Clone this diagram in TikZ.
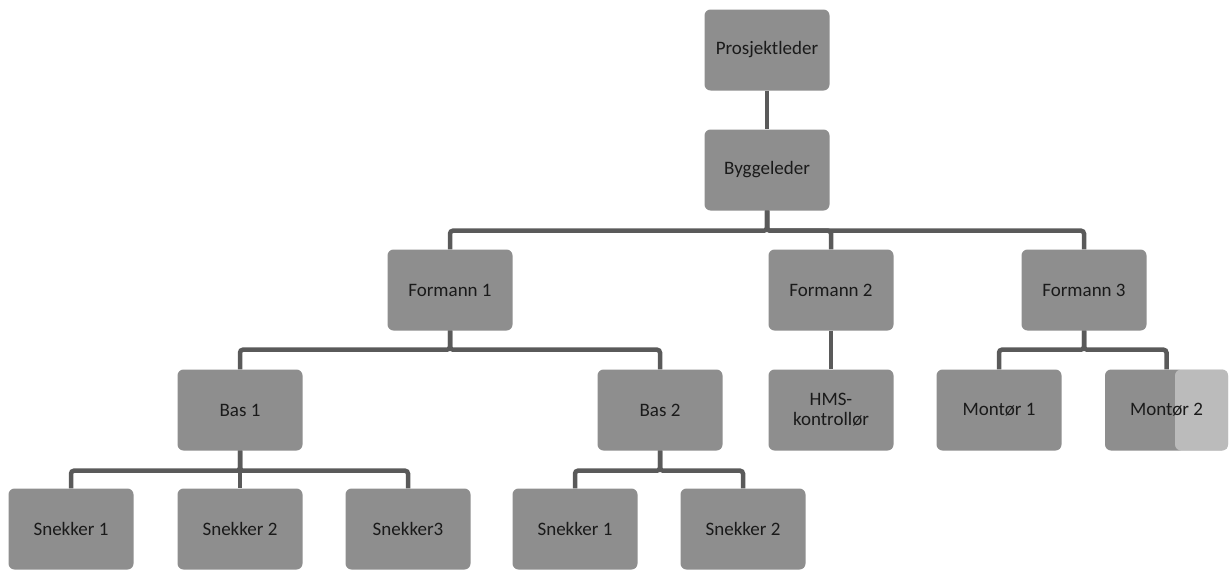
\documentclass[tikz,border=0pt]{standalone}
\usepackage{fontspec}
\setmainfont{Carlito}
\definecolor{boxfill}{HTML}{8E8E8E}
\definecolor{linegray}{HTML}{5A5A5A}
\definecolor{textdark}{HTML}{1A1A1A}
\begin{document}
\begin{tikzpicture}[x=1pt,y=-1pt,
  orgbox/.style={rectangle, rounded corners=6pt, fill=boxfill,
    minimum width=125pt, minimum height=81pt, inner sep=2pt,
    text=textdark, font=\fontsize{19}{20}\selectfont, align=center},
  conn/.style={draw=linegray, line width=4.5pt, rounded corners=3pt}]
\useasboundingbox (0,0) rectangle (1231,570);

% top levels
\node[orgbox] (pl) at (767,50) {Prosjektleder};
\node[orgbox] (bl) at (767,170) {Byggeleder};

% foremen
\node[orgbox] (f1) at (450,290) {Formann 1};
\node[orgbox] (f2) at (831,290) {Formann 2};
\node[orgbox] (f3) at (1084,290) {Formann 3};

% third level
\node[orgbox] (b1) at (240,410) {Bas 1};
\node[orgbox] (b2) at (660,410) {Bas 2};
\node[orgbox] (hms) at (831,410) {HMS-\\kontrollør};
\node[orgbox] (m1) at (999,410) {Montør 1};
\node[orgbox, minimum width=123pt,
  path picture={\fill[white,opacity=0.4]
    ([xshift=70pt]path picture bounding box.north west)
    rectangle (path picture bounding box.south east);}]
  (m2) at (1166.5,410) {Montør 2};

% carpenters
\node[orgbox] (s11) at (71,529) {Snekker 1};
\node[orgbox] (s12) at (240,529) {Snekker 2};
\node[orgbox] (s13) at (408,529) {Snekker3};
\node[orgbox] (s21) at (575,529) {Snekker 1};
\node[orgbox] (s22) at (743,529) {Snekker 2};

% connectors
\draw[conn] (pl) -- (bl);
\foreach \c in {f1,f2,f3}
  \draw[conn] (bl.south) -- ++(0,20) -| (\c.north);
\foreach \c in {b1,b2}
  \draw[conn] (f1.south) -- ++(0,19) -| (\c.north);
\draw[conn] (f2) -- (hms);
\foreach \c in {m1,m2}
  \draw[conn] (f3.south) -- ++(0,19) -| (\c.north);
\foreach \c in {s11,s12,s13}
  \draw[conn] (b1.south) -- ++(0,20) -| (\c.north);
\foreach \c in {s21,s22}
  \draw[conn] (b2.south) -- ++(0,20) -| (\c.north);
\end{tikzpicture}
\end{document}
